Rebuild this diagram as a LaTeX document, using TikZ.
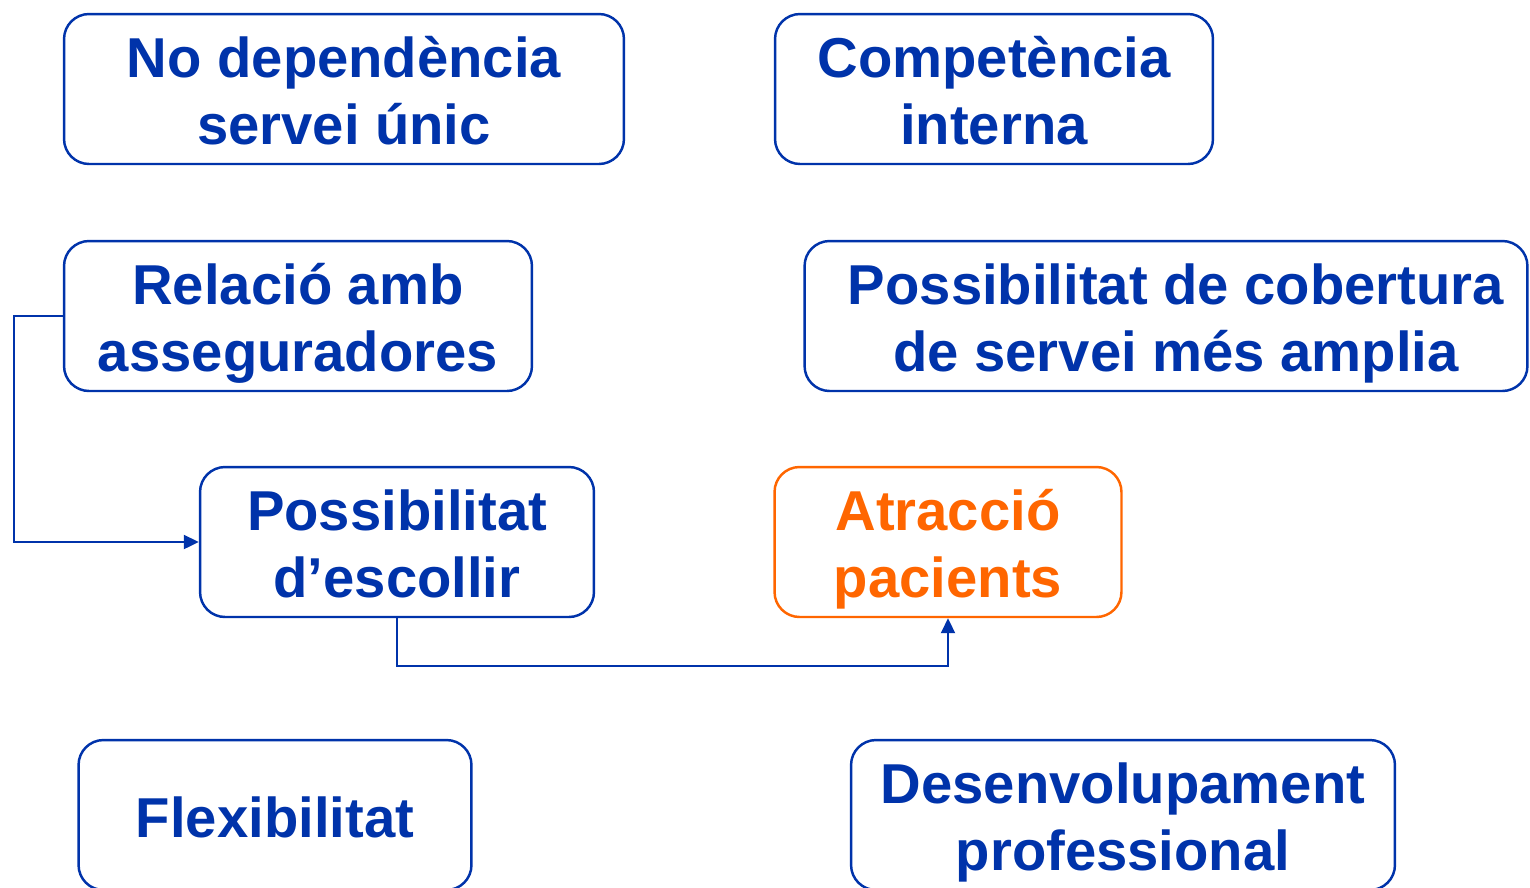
\documentclass[tikz,border=0pt]{standalone}
\usepackage{fontspec}
\setmainfont{Liberation Sans}
\usetikzlibrary{positioning}
\usetikzlibrary{arrows.meta}
\definecolor{bluetext}{RGB}{0,51,170}
\definecolor{orangetext}{RGB}{255,102,0}
\newcommand{\hitop}{\rule{0pt}{33.4pt}}
\newcommand{\lowbot}{\rule[-8pt]{0pt}{8pt}}
\tikzstyle{box} = [rectangle, rounded corners=0.5cm, draw=bluetext, line width=1.4pt, text=bluetext, font=\fontsize{32}{38}\selectfont\bfseries, align=center, inner sep=0pt, minimum height=3cm]
\tikzstyle{goal} = [box, draw=orangetext, text=orangetext]
\tikzstyle{arrow} = [bluetext, line width=1.2pt, -{Triangle[length=0.3cm,width=0.28cm]}]

\begin{document}
\begin{tikzpicture}[x=0.02cm,y=-0.02cm]
      \useasboundingbox (0,0) rectangle (1530,887);
      \clip (0,0) rectangle (1530,887);
      %%%%%%%%%%%%%%%%%%%%%%%%%%%%%%%%%%%%%%%
      \node (dep) at (344,89) [box, minimum width=11.2cm] {\hitop No dependència\\servei únic\lowbot};
      \node (comp) at (994,89) [box, minimum width=8.76cm] {\hitop Competència\\interna\lowbot};
      \node (rel) at (298,316) [box, minimum width=9.36cm] {\hitop Relació amb\\asseguradores\lowbot};
      \node (cob) at (1166,316) [box, minimum width=14.46cm] {\hitop\hspace*{0.4cm}Possibilitat de cobertura\\\hspace*{0.4cm}de servei més amplia\lowbot};
      \node (esc) at (397,542) [box, minimum width=7.88cm] {\hitop Possibilitat\\d’escollir\lowbot};
      \node (atr) at (948,542) [goal, minimum width=6.94cm] {\hitop Atracció\\pacients\lowbot};
      \node (flex) at (275,815) [box, minimum width=7.86cm] {\hitop Flexibilitat\lowbot};
      \node (des) at (1123,815) [box, minimum width=10.88cm] {\hitop Desenvolupament\\professional\lowbot};
      %\coordinate (c1) at (15,316);
      \draw[arrow] (rel.west) -- ++(-49,0) |- (esc.west);
      \draw[arrow] (esc.south) -- ++(0,48) -| (atr.south);
      \end{tikzpicture}
\end{document}
